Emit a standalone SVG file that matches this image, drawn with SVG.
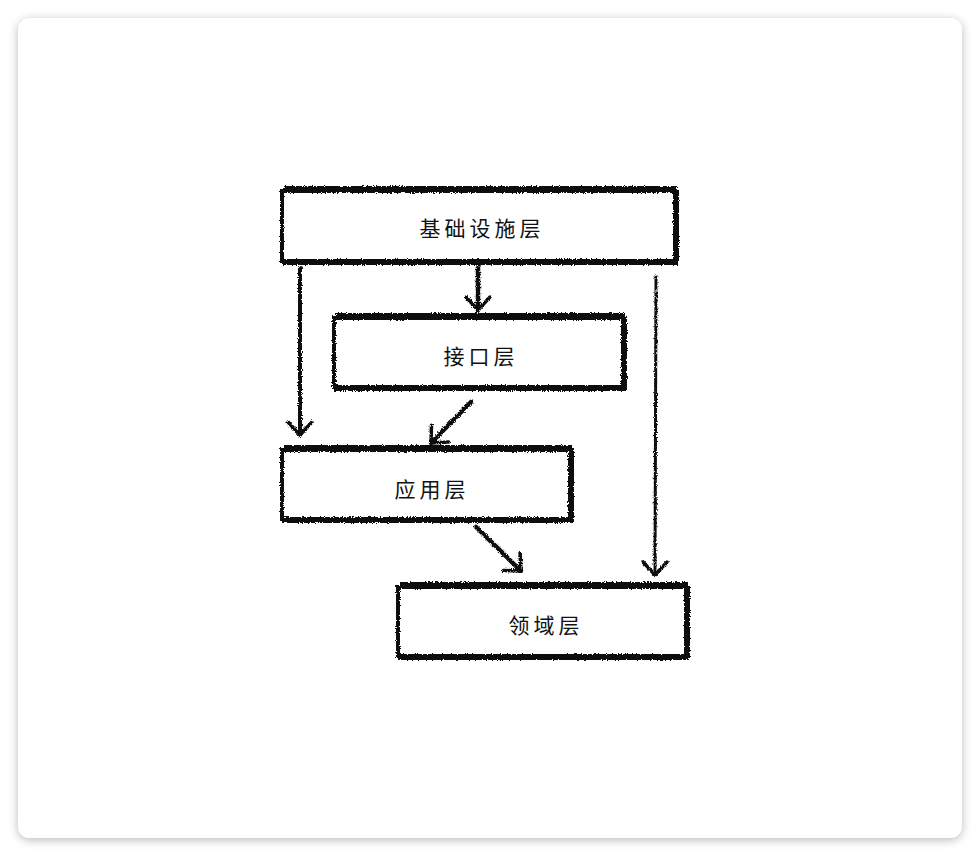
<svg xmlns="http://www.w3.org/2000/svg" width="980" height="856" viewBox="0 0 980 856">
<defs>
<filter id="shadow" x="-5%" y="-5%" width="110%" height="110%">
<feDropShadow dx="0" dy="2" stdDeviation="5" flood-color="#000" flood-opacity="0.28"/>
</filter>
<filter id="rough" x="-5%" y="-5%" width="110%" height="110%">
<feTurbulence type="fractalNoise" baseFrequency="0.8" numOctaves="2" seed="3" result="n"/>
<feDisplacementMap in="SourceGraphic" in2="n" scale="3.5" xChannelSelector="R" yChannelSelector="G"/>
</filter>
<marker id="vr" viewBox="0 0 30 30" refX="26" refY="15" markerWidth="30" markerHeight="30" markerUnits="userSpaceOnUse" orient="auto">
<polyline points="13,3 26,15 13,27" fill="none" stroke="#111" stroke-width="3.5" stroke-linecap="round" stroke-linejoin="round"/>
</marker>
</defs>
<style>
.box{fill:#fff;stroke:#111;stroke-width:4}
.thick{fill:none;stroke:#111;stroke-width:6}
.edge{fill:none;stroke:#111;stroke-linecap:round}
.lbl{font-family:"Noto Sans CJK SC","Noto Sans",sans-serif;font-size:21px;font-weight:400;fill:#111;text-anchor:middle;dominant-baseline:central;letter-spacing:4px}
</style>
<rect x="18" y="18" width="944" height="820" rx="12" fill="#fff" filter="url(#shadow)"/>
<g id="n1">
<g filter="url(#rough)">
<rect class="box" x="282" y="191" width="393" height="70"/>
<path class="thick" d="M284 189 L677 189 M676 190 L676 263 M282 262 L678 262"/>
</g>
<text class="lbl" x="482" y="227">基础设施层</text>
</g>
<g id="n2">
<g filter="url(#rough)">
<rect class="box" x="334" y="318" width="289" height="69"/>
<path class="thick" d="M336 316 L625 316 M624 317 L624 389 M334 388 L626 388"/>
</g>
<text class="lbl" x="481" y="355">接口层</text>
</g>
<g id="n3">
<g filter="url(#rough)">
<rect class="box" x="282" y="450" width="288" height="69"/>
<path class="thick" d="M284 448 L572 448 M571 449 L571 521 M282 520 L573 520"/>
</g>
<text class="lbl" x="432" y="488">应用层</text>
</g>
<g id="n4">
<g filter="url(#rough)">
<rect class="box" x="398" y="587" width="288" height="69"/>
<path class="thick" d="M400 585 L688 585 M687 586 L687 658 M398 657 L689 657"/>
</g>
<text class="lbl" x="546" y="624">领域层</text>
</g>
<g id="connectors" filter="url(#rough)">
<path class="edge" d="M300 268 L300 435" stroke-width="4" marker-end="url(#vr)"/>
<path class="edge" d="M478 268 L478 310" stroke-width="4.5" marker-end="url(#vr)"/>
<path class="edge" d="M656 276 L655 575" stroke-width="3" marker-end="url(#vr)"/>
<path class="edge" d="M471 402 L431 443" stroke-width="4.5" marker-end="url(#vr)"/>
<path class="edge" d="M476 527 L521 571" stroke-width="4.5" marker-end="url(#vr)"/>
</g>
</svg>
